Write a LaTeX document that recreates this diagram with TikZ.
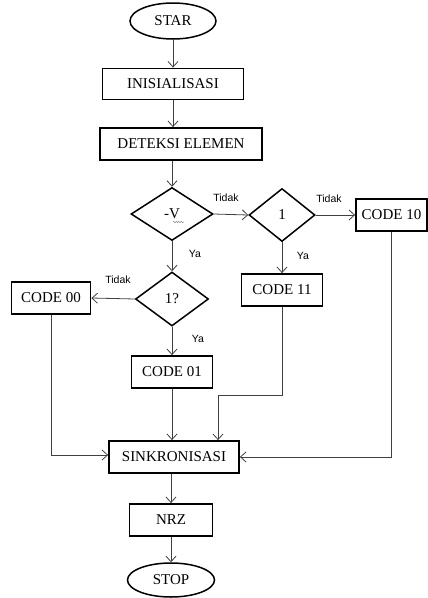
\documentclass[tikz,border=0pt]{standalone}
\usepackage{fontspec}
\setmainfont{Liberation Serif}
\newfontfamily\labfont{Liberation Sans}
\usetikzlibrary{shapes.geometric,arrows.meta,decorations.pathmorphing}
\tikzset{
  box/.style={draw, line width=1.8pt, inner sep=0pt, font=\fontsize{15}{17}\selectfont},
  term/.style={box, ellipse, line width=1.5pt},
  dec/.style={box, diamond, line width=1.5pt},
  conn/.style={draw=black!75, line width=0.8pt, -{Straight Barb[length=5.5pt,width=10pt,line width=0.8pt]}},
  lbl/.style={font=\labfont\fontsize{10.5}{12}\selectfont, inner sep=0pt},
}
\begin{document}
\begin{tikzpicture}[x=1pt,y=-1pt]
\useasboundingbox (0,0) rectangle (428,598);
\node[term, minimum width=86, minimum height=36] (star) at (173,21) {STAR};
\node[box, minimum width=141, minimum height=31] (init) at (173,84) {INISIALISASI};
\node[box, minimum width=162, minimum height=32] (det) at (181,144) {DETEKSI ELEMEN};
\node[dec, minimum width=82, minimum height=53] (v) at (172,214) {-V};
\node[dec, minimum width=66, minimum height=53] (one) at (282,215) {1};
\node[box, minimum width=71, minimum height=32] (c10) at (391.5,215) {CODE 10};
\node[dec, minimum width=73, minimum height=54] (q) at (172,299) {1?};
\node[box, minimum width=79, minimum height=32] (c00) at (51,298) {CODE 00};
\node[box, minimum width=81, minimum height=32] (c11) at (282,290) {CODE 11};
\node[box, minimum width=81, minimum height=32] (c01) at (172,372) {CODE 01};
\node[box, minimum width=130, minimum height=32] (sink) at (174,457) {SINKRONISASI};
\node[box, minimum width=83, minimum height=32] (nrz) at (171,520) {NRZ};
\node[term, minimum width=87, minimum height=34] (stop) at (171,580) {STOP};
% spell-check squiggle under V
\draw[black!45, line width=0.5pt, decorate, decoration={snake, amplitude=0.7pt, segment length=2.5pt}] (173,222) -- (184,222);
% labels
\node[lbl] (t1) at (226,198) {Tidak};
\node[lbl] (t2) at (329,199) {Tidak};
\node[lbl] (t3) at (118,280) {Tidak};
\node[lbl] (y1) at (195,254) {Ya};
\node[lbl] (y2) at (303,256) {Ya};
\node[lbl] (y3) at (198,339) {Ya};
% connectors
\draw[conn] (star) -- (init);
\draw[conn] (init.south) -- (init.south |- det.north);
\draw[conn] (det.south -| v) -- (v.north);
\draw[conn] (v.east) -- (one.west);
\draw[conn] (one.east) -- (c10.west);
\draw[conn] (v.south) -- (q.north);
\draw[conn] (one.south) -- (c11.north);
\draw[conn] (q.west) -- (c00.east);
\draw[conn] (q.south) -- (c01.north);
\draw[conn] (c01.south) -- (c01.south |- sink.north);
\draw[conn] (c00.south) |- ([yshift=2pt]sink.west);
\draw[conn] (c11.south) -- (c11.south |- 0,395) -| ([xshift=44pt]sink.north);
\draw[conn] (c10.south) |- (sink.east);
\draw[conn] (sink.south -| nrz) -- (nrz.north);
\draw[conn] (nrz) -- (stop);
\end{tikzpicture}
\end{document}
